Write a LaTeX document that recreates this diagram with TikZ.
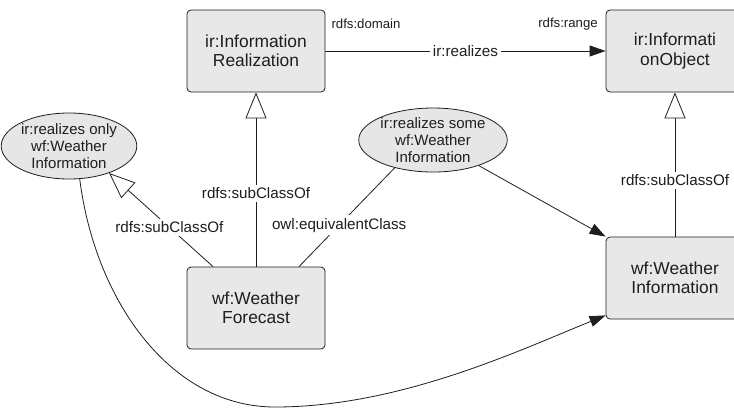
\documentclass[tikz,border=0pt]{standalone}
\usepackage{fontspec}
\setmainfont{Liberation Sans}
\usetikzlibrary{arrows.meta,shapes.geometric}
\definecolor{boxgray}{HTML}{E8E8E8}
\definecolor{ellgray}{HTML}{E6E6E6}
\definecolor{ink}{HTML}{1E1E1E}
\begin{document}
\begin{tikzpicture}[x=1pt,y=-1pt,
  cls/.style={draw=ink, fill=boxgray, rounded corners=4pt, minimum width=138pt,
    minimum height=82pt, align=center, inner sep=0pt, line width=0.8pt,
    text=ink, font=\fontsize{17.4}{19.5}\selectfont},
  restr/.style={ellipse, draw=ink, fill=ellgray, align=center, inner sep=0pt,
    line width=0.8pt, text=ink, font=\fontsize{15}{17}\selectfont},
  lbl/.style={fill=white, inner sep=3pt, text=ink, font=\fontsize{15.2}{17}\selectfont},
  smalllbl/.style={inner sep=0pt, text=ink, font=\fontsize{13.2}{15}\selectfont},
  conn/.style={line width=0.8pt, draw=ink},
  subarr/.style={conn, -{Triangle[open, fill=white, length=26pt, width=21pt]}},
  relarr/.style={conn, -{Triangle[length=16pt, width=11pt]}}]
\path[use as bounding box] (0,0) rectangle (734,408);

\node[cls] (IR) at (256,51) {ir:Information\\Realization};
\node[cls] (IO) at (675,51) {ir:Informati\\onObject};
\node[cls] (WF) at (256,308) {wf:Weather\\Forecast};
\node[cls] (WI) at (675,278) {wf:Weather\\Information};

\node[restr, minimum width=132pt, minimum height=66pt] (E1) at (69,146)
  {ir:realizes only\\wf:Weather\\Information};
\node[restr, minimum width=140pt, minimum height=64pt] (E2) at (433,140)
  {ir:realizes some\\wf:Weather\\Information};

\node[smalllbl] (dom) at (366,24) {rdfs:domain};
\node[smalllbl] (rng) at (568,24) {rdfs:range};

\draw[relarr] (IR.east) -- node[lbl] {ir:realizes} (IO.west);
\draw[subarr] (WF.north) -- node[lbl, pos=0.42] {rdfs:subClassOf} (IR.south);
\draw[subarr] ([xshift=-43pt]WF.north) -- node[lbl, pos=0.42] {rdfs:subClassOf} (E1.-34);
\draw[conn] ([xshift=43pt]WF.north) -- node[lbl, pos=0.42] {owl:equivalentClass} (E2.-144);
\draw[relarr] (E2) -- (WI.north west);
\draw[subarr] (WI.north) -- node[lbl, pos=0.39] {rdfs:subClassOf} (IO.south);
\draw[relarr] (E1.-72) .. controls (95,300) and (170,407) .. (275,407)
  .. controls (400,407) and (520,350) .. ([yshift=4pt]WI.south west);
\end{tikzpicture}
\end{document}
